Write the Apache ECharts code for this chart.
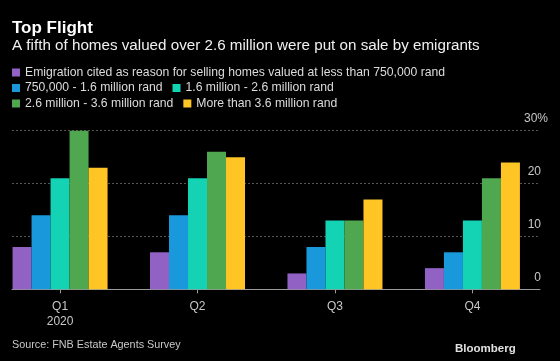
<!DOCTYPE html>
<html>
<head>
<meta charset="utf-8">
<script src="https://cdn.jsdelivr.net/npm/echarts@6/dist/echarts.min.js"></script>
<style>
html,body{margin:0;padding:0;background:#000;}
#c{width:560px;height:361px;}
</style>
</head>
<body>
<div id="c"></div>
<script>
const categories = ['Q1\n2020', 'Q2', 'Q3', 'Q4'];
const seriesNames = [
  'Emigration cited as reason for selling homes valued at less than 750,000 rand',
  '750,000 - 1.6 million rand',
  '1.6 million - 2.6 million rand',
  '2.6 million - 3.6 million rand',
  'More than 3.6 million rand'
];
const under750k = [8, 7, 3, 4];
const from750kTo1_6m = [14, 14, 8, 7];
const from1_6mTo2_6m = [21, 21, 13, 13];
const from2_6mTo3_6m = [31, 26, 13, 21];
const over3_6m = [23, 25, 17, 24];
const yTicks = [0, 10, 20, 30];
const colors = ['#9162c4', '#1a98dc', '#14d2b4', '#4fa84f', '#fec524'];

const allValues = [under750k, from750kTo1_6m, from1_6mTo2_6m, from2_6mTo3_6m, over3_6m];
const catIdx = categories.map((c, i) => i);

const font = 'Liberation Sans, Arial, sans-serif';
const chart = echarts.init(document.getElementById('c'));

const legendBase = {
  padding: 0, itemWidth: 8, itemHeight: 8, icon: 'rect', itemGap: 10,
  textStyle: { color: '#dcdcdc', fontSize: 12.2, fontFamily: font },
  selectedMode: false, orient: 'horizontal', left: 12
};

chart.setOption({
  backgroundColor: '#000',
  animation: false,
  color: colors,
  title: [
    { text: 'Top Flight', left: 12, top: 20, padding: 0,
      textStyle: { color: '#fff', fontSize: 17, fontWeight: 'bold', fontFamily: font } },
    { text: 'A fifth of homes valued over 2.6 million were put on sale by emigrants', left: 12, top: 38.5, padding: 0,
      textStyle: { color: '#f0f0f0', fontSize: 15.2, fontWeight: 'normal', fontFamily: font } },
    { text: 'Source: FNB Estate Agents Survey', left: 12, top: 340, padding: 0,
      textStyle: { color: '#c8c8c8', fontSize: 10.8, fontWeight: 'normal', fontFamily: font } },
    { text: 'Bloomberg', left: 455, top: 343, padding: 0,
      textStyle: { color: '#e0e0e0', fontSize: 11.5, fontWeight: 'bold', fontFamily: font } }
  ],
  legend: [
    Object.assign({}, legendBase, { top: 66.5, data: [seriesNames[0]] }),
    Object.assign({}, legendBase, { top: 82, data: [seriesNames[1], seriesNames[2]] }),
    Object.assign({}, legendBase, { top: 97.5, data: [seriesNames[3], seriesNames[4]] })
  ],
  grid: { left: 12, right: 20, top: 130.7, bottom: 71.7, containLabel: false },
  xAxis: {
    type: 'value', min: -0.3496, max: 3.4916,
    splitLine: { show: false },
    axisLine: { show: true, lineStyle: { color: '#9a9a9a', width: 1 } },
    axisTick: { show: true, customValues: catIdx, length: 4, lineStyle: { color: '#9a9a9a' } },
    axisLabel: {
      customValues: catIdx, formatter: v => categories[Math.round(v)],
      color: '#c8c8c8', fontSize: 12, fontFamily: font, margin: 10, lineHeight: 15
    }
  },
  yAxis: {
    type: 'value', position: 'right', min: 0, max: 30, interval: 10,
    axisLine: { show: false }, axisTick: { show: false },
    splitLine: { show: true, lineStyle: { color: '#555', type: [2, 2], width: 1 } },
    axisLabel: {
      margin: 8, align: 'right', verticalAlign: 'bottom', padding: [0, 0, 6, 0],
      color: '#c8c8c8', fontSize: 12, fontFamily: font,
      formatter: v => v === yTicks[yTicks.length - 1] ? '{n|' + v + '%}' : '{n|' + v + '}{s| }',
      rich: { n: { color: '#c8c8c8', fontSize: 12, fontFamily: font }, s: { width: 7, fontSize: 12, fontFamily: font } }
    }
  },
  series: seriesNames.map((name, s) => ({
    name, type: 'bar', barWidth: 19, barGap: '0%',
    itemStyle: { color: colors[s] },
    data: allValues[s].map((v, i) => [catIdx[i], v])
  }))
});
</script>
</body>
</html>
